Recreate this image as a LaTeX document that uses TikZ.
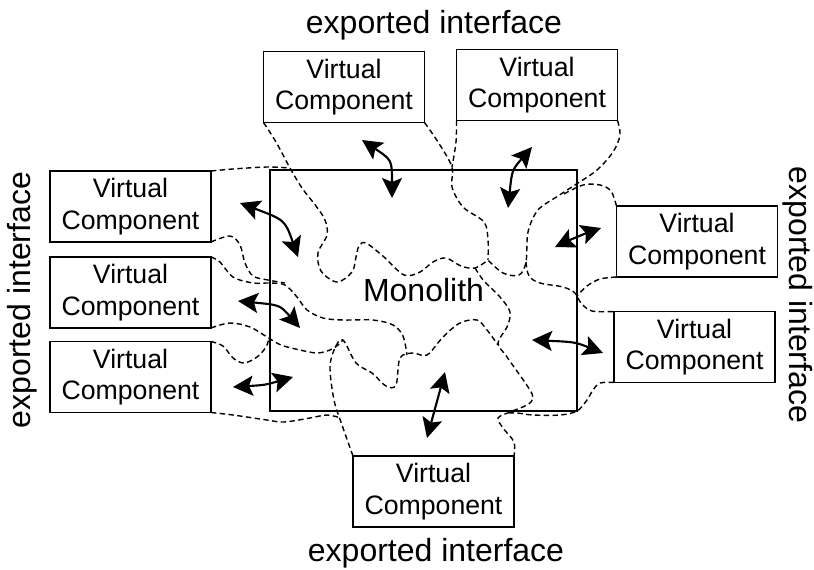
\documentclass[tikz,border=0pt]{standalone}
\usepackage{fontspec}
\setmainfont{Liberation Sans}
\usetikzlibrary{arrows.meta}
\begin{document}
\begin{tikzpicture}[x=0.75pt,y=-0.75pt,
  vc/.style={draw, line width=1.2pt, minimum width=120.75pt, minimum height=53.25pt, inner sep=0pt, outer sep=0pt, align=center, font=\fontsize{20}{23.5}\selectfont},
  lbl/.style={font=\fontsize{24}{28}\selectfont, inner sep=0pt},
  bnd/.style={line width=1.05pt, dash pattern=on 4pt off 2.6pt},
  dbl/.style={line width=1.6pt, arrows={Stealth[length=15pt,width=15pt,inset=3pt]-Stealth[length=15pt,width=15pt,inset=3pt]}}]
\useasboundingbox (0,0) rectangle (814,569);

% monolith
\node[draw, line width=1.5pt, minimum width=230.25pt, minimum height=180.75pt, inner sep=0pt, outer sep=0pt, font=\fontsize{24}{28}\selectfont] (mono) at (423.5,290.5) {Monolith};

% virtual components
\node[vc] (tv1) at (344,87) {Virtual\\Component};
\node[vc] (tv2) at (537,85) {Virtual\\Component};
\node[vc] (lv1) at (130.5,206.5) {Virtual\\Component};
\node[vc] (lv2) at (130.5,292.5) {Virtual\\Component};
\node[vc] (lv3) at (130.5,377) {Virtual\\Component};
\node[vc] (rv1) at (697,241.5) {Virtual\\Component};
\node[vc] (rv2) at (694.5,347) {Virtual\\Component};
\node[vc] (bv) at (433.5,491.5) {Virtual\\Component};

% labels
\node[lbl] (ltop) at (434,25) {exported interface};
\node[lbl] (lbot) at (436,553) {exported interface};
\node[lbl, rotate=90] (lleft) at (22,300) {exported interface};
\node[lbl, rotate=-90] (lright) at (798,295) {exported interface};

% dashed boundaries
\draw[bnd] plot[smooth, tension=0.55] coordinates {(tv1.south west) (276,142) (290,168) (302,188) (316,206) (325,220) (327,235) (318,253) (321,271) (337,282) (352,272) (356,257) (359,246) (366,243) (384,257) (404,275) (420,272) (433,262) (446,258) (461,266) (475,268) (488,260)};
\draw[bnd] plot[smooth, tension=0.55] coordinates {(tv1.south east) (438,142) (452,167) (452,187) (463,207) (484,222) (488,240) (488,260)};
\draw[bnd] plot[smooth, tension=0.55] coordinates {(tv2.south west) (456,142) (452,167)};
\draw[bnd] plot[smooth, tension=0.55] coordinates {(tv2.south east) (620,135) (613,152) (597,170) (578,183) (558,196) (538,210) (528,232) (526,262) (519,275) (503,273) (488,260)};
\draw[bnd] plot[smooth, tension=0.55] coordinates {(rv1.north west) (611,191) (600,185) (583,185) (562,195)};
\draw[bnd] plot[smooth, tension=0.55] coordinates {(526,262) (529,276) (540,283) (563,287) (575,293) (581,303) (592,311) (rv2.north west)};
\draw[bnd] plot[smooth, tension=0.55] coordinates {(rv1.south west) (600,279) (587,286) (577,296)};
\draw[bnd] plot[smooth, tension=0.55] coordinates {(475,268) (484,281) (500,297) (510,312) (507,327) (498,343) (507,357) (528,387) (533,398) (527,405) (510,412) (498,418) (503,428) (514,442) (bv.north east)};
\draw[bnd] plot[smooth, tension=0.55] coordinates {(bv.north west) (342,425) (334,400) (330,367) (335,348) (343,340) (356,363) (372,373) (386,386) (396,385) (400,358) (413,353) (427,355) (443,337) (460,323) (477,320) (487,330) (498,345)};
\draw[bnd] plot[smooth, tension=0.55] coordinates {(lv1.north east) (233,169) (267,167) (290,168)};
\draw[bnd] plot[smooth, tension=0.55] coordinates {(lv1.south east) (230,236) (240,245) (245,263) (253,276) (268,280) (285,283)};
\draw[bnd] plot[smooth, tension=0.55] coordinates {(lv2.north east) (220,262) (233,277) (253,283) (270,283) (285,285) (297,297) (307,310) (323,318) (343,320) (373,320) (393,325) (403,336) (407,355)};
\draw[bnd] plot[smooth, tension=0.55] coordinates {(lv2.south east) (230,323) (250,327) (267,337) (281,345) (300,350) (317,353) (330,350) (338,345) (343,340)};
\draw[bnd] plot[smooth, tension=0.55] coordinates {(lv3.north east) (223,346) (233,358) (244,363) (257,357) (266,347) (269,338)};
\draw[bnd] plot[smooth, tension=0.55] coordinates {(lv3.south east) (233,415) (267,420) (284,422) (310,418) (327,415) (341,418)};
\draw[bnd] plot[smooth, tension=0.55] coordinates {(rv2.south west) (600,383) (593,390) (587,400) (577,411) (560,415) (533,415) (517,413) (508,413)};

% arrows
\coordinate (a1) at (362,140); \coordinate (a2) at (392,198);
\coordinate (b1) at (532,147); \coordinate (b2) at (508,208);
\coordinate (c1) at (240,203); \coordinate (c2) at (298,257);
\coordinate (d1) at (238,301); \coordinate (d2) at (300,328);
\coordinate (e1) at (233,387); \coordinate (e2) at (293,377);
\coordinate (f1) at (555,247); \coordinate (f2) at (601,228);
\coordinate (g1) at (532,340); \coordinate (g2) at (603,353);
\coordinate (h1) at (445,372); \coordinate (h2) at (427,438);
\draw[dbl] (a1) .. controls (392,160) .. (a2);
\draw[dbl] (b1) .. controls (512,170) .. (b2);
\draw[dbl] (c1) .. controls (285,220) .. (c2);
\draw[dbl] (d1) .. controls (280,305) .. (d2);
\draw[dbl] (e1) .. controls (265,385) .. (e2);
\draw[dbl] (f1) .. controls (578,236) .. (f2);
\draw[dbl] (g1) .. controls (575,342) .. (g2);
\draw[dbl] (h1) -- (h2);
\end{tikzpicture}
\end{document}
